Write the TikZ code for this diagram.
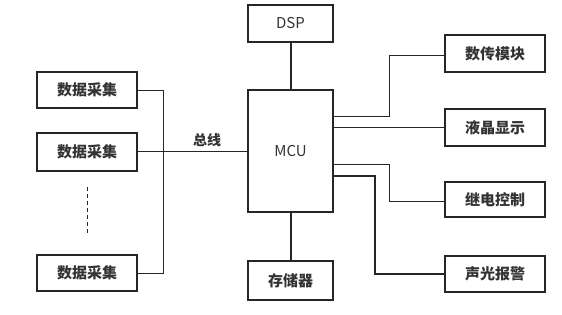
\documentclass[tikz,border=0pt]{standalone}
\usepackage{fontspec}
\setmainfont{Noto Sans CJK SC}
\begin{document}
\begin{tikzpicture}[x=1pt,y=-1pt,
  box/.style={draw=black!85,line width=1.1pt,inner sep=0pt,text=black!80,font=\fontsize{15}{15}\selectfont\bfseries},
  latin/.style={font=\fontsize{15}{15}\selectfont\mdseries},
  wire/.style={draw=black!85,line width=0.8pt},
  thick wire/.style={draw=black!85,line width=2pt}]
\useasboundingbox (0,0) rectangle (562,315);
% left boxes
\node[box,minimum width=100pt,minimum height=36pt] (d1) at (87,90) {数据采集};
\node[box,minimum width=100pt,minimum height=38pt] (d2) at (87,152) {数据采集};
\node[box,minimum width=100pt,minimum height=36pt] (d3) at (87,273) {数据采集};
\coordinate (dt) at (87,187);
\coordinate (db) at (87,233);
\draw[wire,dashed,dash pattern=on 4pt off 3pt] (dt) -- (db);
% center
\node[box,latin,minimum width=85pt,minimum height=122pt] (mcu) at (290.5,151) {MCU};
\node[box,latin,minimum width=85pt,minimum height=37pt] (dsp) at (290.5,23.5) {DSP};
\node[box,minimum width=85pt,minimum height=39pt] (mem) at (290.5,280.5) {存储器};
% right boxes
\node[box,minimum width=100pt,minimum height=37pt] (r1) at (495,53.5) {数传模块};
\node[box,minimum width=100pt,minimum height=37pt] (r2) at (495,127.5) {液晶显示};
\node[box,minimum width=100pt,minimum height=35pt] (r3) at (495,199.5) {继电控制};
\node[box,minimum width=100pt,minimum height=36pt] (r4) at (495,274) {声光报警};
% bus
\coordinate (b1) at (163,90);
\coordinate (b3) at (163,273);
\draw[wire] (d1.east) -- (b1) -- (b3) -- (d3.east);
\draw[wire] (d2.east |- 0,151) -- (mcu.west |- 0,151);
\node[text=black!80,font=\fontsize{14}{14}\selectfont\bfseries] (bus) at (207,140) {总线};
% thick links
\draw[thick wire] (dsp) -- (mcu);
\draw[thick wire] (mcu) -- (mem);
% right links
\draw[wire] (mcu.east |- 0,116) -| (389,55) -- (r1.west |- 0,55);
\draw[wire] (mcu.east |- 0,127) -- (r2.west |- 0,127);
\draw[wire] (mcu.east |- 0,164) -| (389,201) -- (r3.west |- 0,201);
\draw[wire,line width=1.4pt] (mcu.east |- 0,176) -| (375,274) -- (r4.west |- 0,274);
\end{tikzpicture}
\end{document}
